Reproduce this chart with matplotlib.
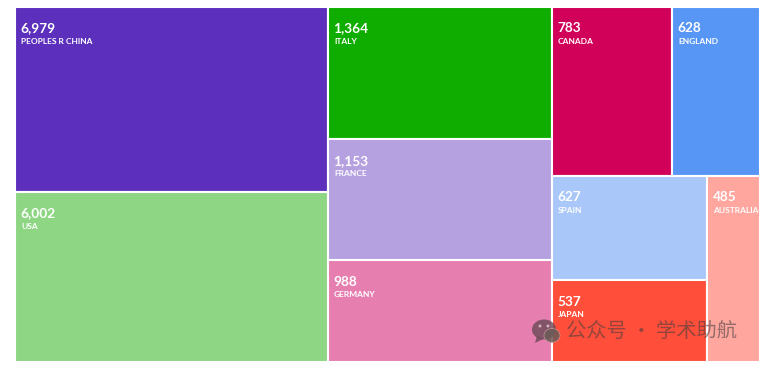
import matplotlib
matplotlib.use("Agg")
import matplotlib.pyplot as plt
from matplotlib.patches import Rectangle, Ellipse, Polygon

W, H = 770, 375

countries = ["PEOPLES R CHINA", "USA", "ITALY", "FRANCE", "GERMANY",
             "CANADA", "ENGLAND", "SPAIN", "JAPAN", "AUSTRALIA"]
records = [6979, 6002, 1364, 1153, 988, 783, 628, 627, 537, 485]
# Tile areas: the original's tiles are not proportional to records.
tile_area = [57748, 53054, 29614, 27044, 22574, 20304, 14828, 16250, 12596, 9832]
colors = ["#5C30BC", "#8ED684", "#0FAD00", "#B5A0E0", "#E67FB0",
          "#D10058", "#5896F6", "#A9C8F9", "#FF4F3B", "#FFA69E"]
# Nesting of the treemap (indices into the lists above)
tree = [[0, 1], [2, 3, 4], [[5, 6], [[7, 8], 9]]]


def weight(node):
    return tile_area[node] if isinstance(node, int) else sum(weight(n) for n in node)


def layout(node, x, y, w, h, horizontal, out):
    if isinstance(node, int):
        out[node] = (x, y, w, h)
        return
    total = weight(node)
    for child in node:
        share = weight(child) / total
        if horizontal:
            layout(child, x, y, w * share, h, False, out)
            x += w * share
        else:
            layout(child, x, y, w, h * share, True, out)
            y += h * share


fig = plt.figure(figsize=(W / 100, H / 100), dpi=100, facecolor="white")
ax = fig.add_axes([15.0 / W, 1 - 361.5 / H, 745.5 / W, 354.5 / H])
ax.set_xlim(0, 1)
ax.set_ylim(1, 0)
ax.axis("off")

cells = {}
layout(tree, 0, 0, 1, 1, True, cells)
FONT = ["Lato", "DejaVu Sans"]
for i, (x, y, w, h) in cells.items():
    ax.add_patch(Rectangle((x, y), w, h, facecolor=colors[i], edgecolor="white",
                           linewidth=1.5, clip_on=False))
    ax.annotate(f"{records[i]:,}", (x, y), xytext=(5.0, -21.5), textcoords="offset pixels",
                color="white", fontsize=9.8, fontweight="bold", family=FONT,
                ha="left", va="center")
    ax.annotate(countries[i], (x, y), xytext=(6.0, -34.5), textcoords="offset pixels",
                color="white", fontsize=6.0, fontweight="bold", family=FONT,
                ha="left", va="center")

# Watermark
ov = fig.add_axes([0, 0, 1, 1], facecolor="none")
ov.set_xlim(0, W)
ov.set_ylim(H, 0)
ov.axis("off")
ink = "#3c3c3c"
ov.add_patch(Ellipse((544, 329.5), 24, 20, facecolor="#6a4a55", alpha=0.8, lw=0))
ov.add_patch(Polygon([[537, 336], [535, 343], [543, 339]], facecolor="#6a4a55", alpha=0.8, lw=0))
ov.add_patch(Ellipse((552, 335.5), 16, 14, facecolor="#6a5a55", alpha=0.85, edgecolor="#d0a0a0", lw=0.5))
for cx in (540, 548):
    ov.add_patch(Ellipse((cx, 326), 3, 3, facecolor="#e0c8d0", alpha=0.8, lw=0))
ov.text(566, 331, "公众号 · 学术助航", color=ink, alpha=0.55, fontsize=14.6,
        family=["Noto Sans CJK SC", "DejaVu Sans"], ha="left", va="center")

fig.savefig("out.png", dpi=100, facecolor="white")
